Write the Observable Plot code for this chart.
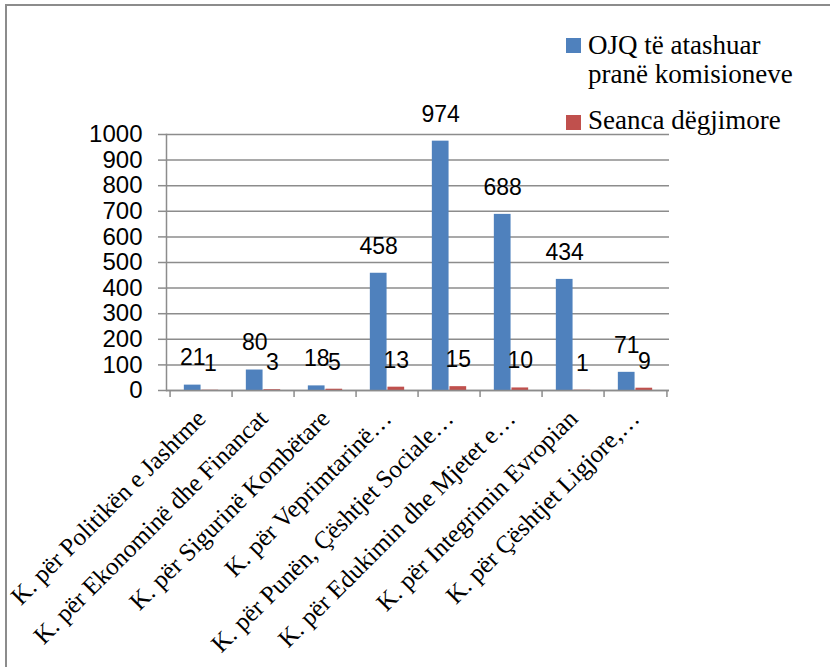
<!DOCTYPE html>
<html><head><meta charset="utf-8">
<script src="https://cdn.jsdelivr.net/npm/d3@7"></script>
<script src="https://cdn.jsdelivr.net/npm/@observablehq/plot@0.6"></script>
<style>
html,body{margin:0;padding:0;background:#fff;}
#wrap{position:relative;width:830px;height:667px;overflow:hidden;}
#wrap svg{position:absolute;left:0;top:0;}
.bt{position:absolute;left:5px;top:4px;width:825px;height:0;border-top:2px solid #8c8c8c;}
.bl{position:absolute;left:5px;top:4px;width:0;height:663px;border-left:2px solid #8c8c8c;}
.leg{position:absolute;font-family:"Liberation Serif",serif;font-size:27px;line-height:29px;color:#000;width:232px;}
.sw{position:absolute;width:15px;height:15px;}
</style></head><body>
<div id="wrap"><div class="bt"></div><div class="bl"></div></div>
<script>
const categories = [
  "K. për Politikën e Jashtme",
  "K. për Ekonominë dhe Financat",
  "K. për Sigurinë Kombëtare",
  "K. për Veprimtarinë…",
  "K. për Punën, Çështjet Sociale…",
  "K. për Edukimin dhe Mjetet e…",
  "K. për Integrimin Evropian",
  "K. për Çështjet Ligjore,…"
];
const ojq = [21, 80, 18, 458, 974, 688, 434, 71];
const seanca = [1, 3, 5, 13, 15, 10, 1, 9];
const yTicks = [0, 100, 200, 300, 400, 500, 600, 700, 800, 900, 1000];
const seriesNames = ["OJQ të atashuar pranë komisioneve", "Seanca dëgjimore"];
const seriesColors = ["#4F81BD", "#C0504D"];

const rows = categories.map((c, i) => ({cat: c, ojq: ojq[i], seanca: seanca[i]}));

const W = 830, H = 667, mL = 166, mR = 161, mT = 134, mB = 277;
const bw = (W - mL - mR) / categories.length;
const barW = 17.6;
const grey = "#8c8c8c";

const chart = Plot.plot({
  width: W, height: H,
  marginTop: mT, marginBottom: mB, marginLeft: mL, marginRight: mR,
  style: {fontFamily: "Liberation Sans, sans-serif", fontSize: "24px", color: "#000", background: "transparent", overflow: "visible"},
  x: {type: "band", domain: categories, padding: 0, label: null},
  y: {domain: [0, 1000], label: null},
  marks: [
    Plot.gridY(yTicks, {stroke: grey, strokeOpacity: 1, strokeWidth: 1.5}),
    Plot.axisY(yTicks, {tickSize: 8, tickPadding: 16, tickFormat: d => String(d), stroke: grey, strokeWidth: 1.5, fontSize: 24, fill: "#000", label: null}),
    Plot.frame({anchor: "left", stroke: grey, strokeWidth: 1.5}),
    Plot.barY(rows, {x: "cat", y: "ojq", fill: seriesColors[0], insetLeft: bw / 2 - barW, insetRight: bw / 2}),
    Plot.barY(rows, {x: "cat", y: "seanca", fill: seriesColors[1], insetLeft: bw / 2, insetRight: bw / 2 - barW}),
    Plot.ruleY([0], {stroke: grey, strokeWidth: 1.5}),
    Plot.axisX(categories, {tickSize: 7, tickFormat: () => "", dx: -bw / 2, stroke: grey, strokeWidth: 1.5, label: null}),
    Plot.axisX(categories.slice(-1), {tickSize: 7, tickFormat: () => "", dx: bw / 2, stroke: grey, strokeWidth: 1.5, label: null}),
    Plot.text(rows, {x: "cat", y: "ojq", text: "ojq", dx: -barW / 2, dy: -27, lineAnchor: "middle", fontSize: 23, fill: "#000"}),
    Plot.text(rows, {x: "cat", y: "seanca", text: "seanca", dx: barW / 2, dy: -27, lineAnchor: "middle", fontSize: 23, fill: "#000"}),
    Plot.text(categories, {x: d => d, frameAnchor: "bottom", text: d => d, rotate: -45, textAnchor: "end", lineAnchor: "top", dx: -7, dy: 17, fontFamily: "Liberation Serif, serif", fontSize: 25, fill: "#000"})
  ]
});
const wrap = document.getElementById("wrap");
wrap.insertBefore(chart, wrap.firstChild);

// legend
const legTops = [31, 106];
const swTops = [38, 115];
seriesNames.forEach((name, i) => {
  const sw = document.createElement("div");
  sw.className = "sw";
  sw.style.left = "566px";
  sw.style.top = swTops[i] + "px";
  sw.style.background = seriesColors[i];
  wrap.appendChild(sw);
  const t = document.createElement("div");
  t.className = "leg";
  t.style.left = "588px";
  t.style.top = legTops[i] + "px";
  t.textContent = name;
  wrap.appendChild(t);
});
</script>
</body></html>
